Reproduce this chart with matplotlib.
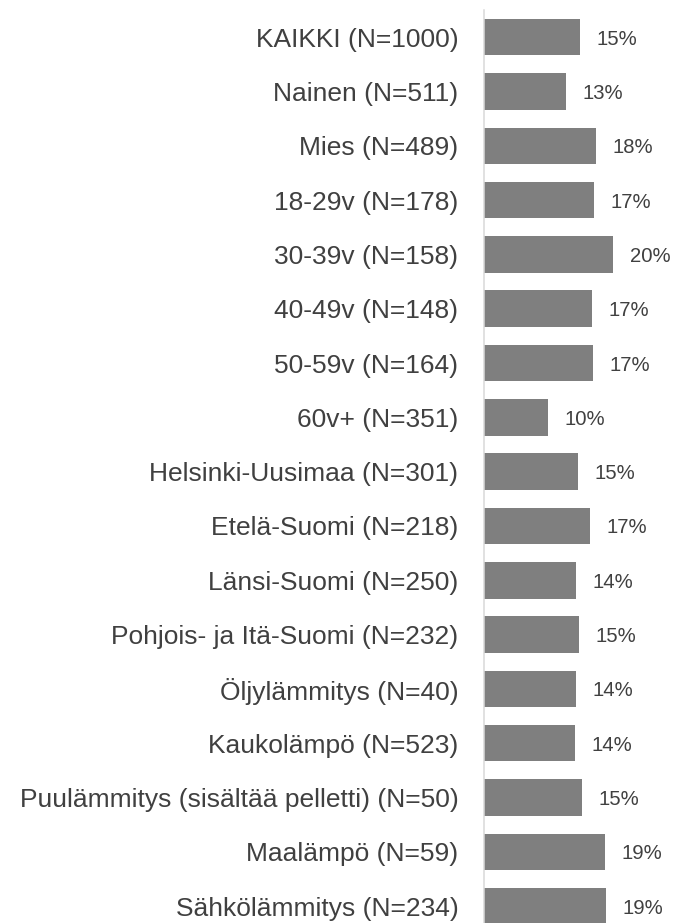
import matplotlib
matplotlib.use("Agg")
import matplotlib.pyplot as plt

plt.rcParams['font.family'] = ['Liberation Sans', 'DejaVu Sans']

# data (percent)
groups = [
    "KAIKKI (N=1000)",
    "Nainen (N=511)",
    "Mies (N=489)",
    "18-29v (N=178)",
    "30-39v (N=158)",
    "40-49v (N=148)",
    "50-59v (N=164)",
    "60v+ (N=351)",
    "Helsinki-Uusimaa (N=301)",
    "Etelä-Suomi (N=218)",
    "Länsi-Suomi (N=250)",
    "Pohjois- ja Itä-Suomi (N=232)",
    "Öljylämmitys (N=40)",
    "Kaukolämpö (N=523)",
    "Puulämmitys (sisältää pelletti) (N=50)",
    "Maalämpö (N=59)",
    "Sähkölämmitys (N=234)",
]
shares = [15.0, 12.9, 17.5, 17.2, 20.2, 16.9, 17.1, 10.0, 14.7, 16.6,
          14.4, 14.9, 14.4, 14.3, 15.4, 19.0, 19.1]

bar_color = "#7f7f7f"
text_color = "#404040"

fig = plt.figure(figsize=(6.75, 9.23), dpi=100)
ax = fig.add_axes([0.717, 0.0, 0.283, 0.9892])

pos = list(range(len(groups)))
ax.barh(pos, shares, height=0.672, color=bar_color)

for y, v in zip(pos, shares):
    ax.annotate(f"{round(v):d}%", xy=(v, y), xytext=(12, 0),
                textcoords="offset points", va="center_baseline", ha="left",
                fontsize=14.6, color=text_color)

ax.set_xlim(0, 29.94)
ax.set_ylim(16.31, -0.5)
ax.set_yticks(pos)
ax.set_yticklabels(groups, fontsize=19, color=text_color)
ax.tick_params(axis="y", length=0, pad=18.5)
ax.set_xticks([])

for side in ["top", "right", "bottom"]:
    ax.spines[side].set_visible(False)
ax.spines["left"].set_color("#d9d9d9")
ax.spines["left"].set_linewidth(1.1)

fig.savefig("out.png", dpi=100)
